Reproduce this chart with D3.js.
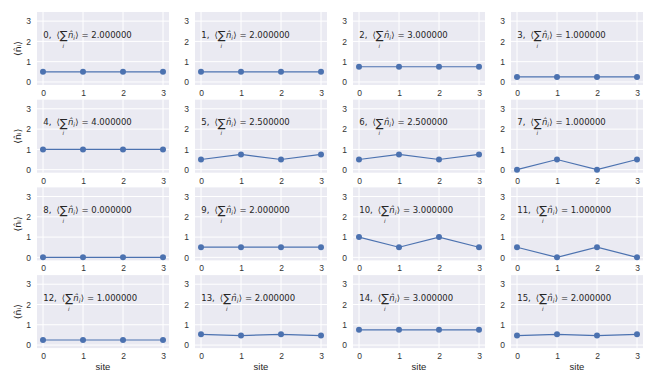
<!DOCTYPE html>
<html>
<head>
<meta charset="utf-8">
<script src="https://cdn.jsdelivr.net/npm/d3@7"></script>
<style>
  body { margin: 0; background: #fff; }
  svg { display: block; }
  text { font-family: "DejaVu Sans", sans-serif; }
</style>
</head>
<body>
<svg id="chart" width="660" height="377"></svg>
<script>
// ---- data ----
const sites = [0, 1, 2, 3];
const xTicks = [0, 1, 2, 3];
const yTicks = [0, 1, 2, 3];
const stateIds = [0,1,2,3,4,5,6,7,8,9,10,11,12,13,14,15];
const occupations = [
  [0.5, 0.5, 0.5, 0.5],
  [0.5, 0.5, 0.5, 0.5],
  [0.75, 0.75, 0.75, 0.75],
  [0.25, 0.25, 0.25, 0.25],
  [1, 1, 1, 1],
  [0.5, 0.75, 0.5, 0.75],
  [0.5, 0.75, 0.5, 0.75],
  [0, 0.5, 0, 0.5],
  [0, 0, 0, 0],
  [0.5, 0.5, 0.5, 0.5],
  [1, 0.5, 1, 0.5],
  [0.5, 0, 0.5, 0],
  [0.25, 0.25, 0.25, 0.25],
  [0.53, 0.47, 0.53, 0.47],
  [0.75, 0.75, 0.75, 0.75],
  [0.47, 0.53, 0.47, 0.53]
];
const totals = [2, 2, 3, 1, 4, 2.5, 2.5, 1, 0, 2, 3, 1, 1, 2, 3, 2];
const xLabel = "site";

// ---- layout ----
const svg = d3.select("#chart");
const nCols = 4, nRows = 4;
const panelW = 132, panelH = 73;
const colLeft = c => 37 + c * 158;
const rowTop = r => 12 + r * 87.7;
const blue = "#4C72B0";
const tickColor = "#262626";

const x = d3.scaleLinear().domain([-0.15, 3.15]).range([0, panelW]);
const y = d3.scaleLinear().domain([-0.15, 3.45]).range([panelH, 0]);

stateIds.forEach((id, k) => {
  const r = Math.floor(k / nCols), c = k % nCols;
  const g = svg.append("g").attr("transform", `translate(${colLeft(c)},${rowTop(r)})`);
  g.append("rect").attr("width", panelW).attr("height", panelH).attr("fill", "#EAEAF2");

  // grid
  g.selectAll(".gx").data(xTicks).enter().append("line")
    .attr("x1", d => x(d)).attr("x2", d => x(d)).attr("y1", 0).attr("y2", panelH)
    .attr("stroke", "#fff").attr("stroke-width", 1);
  g.selectAll(".gy").data(yTicks).enter().append("line")
    .attr("y1", d => y(d)).attr("y2", d => y(d)).attr("x1", 0).attr("x2", panelW)
    .attr("stroke", "#fff").attr("stroke-width", 1);

  // axes (labels only)
  const xa = g.append("g").attr("transform", `translate(0,${panelH})`)
    .call(d3.axisBottom(x).tickValues(xTicks).tickSize(0).tickPadding(5).tickFormat(d3.format("d")));
  const ya = g.append("g")
    .call(d3.axisLeft(y).tickValues(yTicks).tickSize(0).tickPadding(6).tickFormat(d3.format("d")));
  [xa, ya].forEach(a => {
    a.select(".domain").remove();
    a.selectAll("text").attr("fill", "#333").style("font-size", "8.5px")
      .style("font-family", "'Liberation Sans', Arial, sans-serif");
  });

  // line + markers
  const data = occupations[k].map((v, i) => ({ s: sites[i], v }));
  g.append("path").datum(data)
    .attr("fill", "none").attr("stroke", blue).attr("stroke-width", 1.2)
    .attr("d", d3.line().x(d => x(d.s)).y(d => y(d.v)));
  g.selectAll(".pt").data(data).enter().append("circle")
    .attr("cx", d => x(d.s)).attr("cy", d => y(d.v)).attr("r", 3).attr("fill", blue);

  // annotation: "k, <sum_i n_i> = total"
  const tx = x(0) + 0.3, ty = 25.5;
  const t = g.append("text").attr("x", tx).attr("y", ty).attr("fill", tickColor)
    .style("font-size", "8.5px");
  t.append("tspan").text(`${id},`);
  t.append("tspan").attr("dx", 5).text("\u27E8");
  const sig = t.append("tspan").style("font-size", "11.5px").attr("dy", 1.5).text("\u2211");
  let sMid = tx + 21, sEnd = tx + 25;
  try {
    const a = sig.node().getStartPositionOfChar(0);
    const b = sig.node().getEndPositionOfChar(0);
    sMid = (a.x + b.x) / 2; sEnd = b.x;
  } catch (e) {}
  t.append("tspan").attr("x", sMid - 1.1).attr("dy", 8.5)
    .style("font-size", "5.5px").style("font-style", "italic").text("i");
  t.append("tspan").attr("x", sEnd + 0.4).attr("dy", -10).style("font-style", "italic").text("n\u0302");
  t.append("tspan").attr("dy", 2).style("font-size", "6px").style("font-style", "italic").text("i");
  t.append("tspan").attr("dy", -2).attr("dx", 0.3).text("\u27E9");
  t.append("tspan").attr("dx", 3).text("=");
  t.append("tspan").attr("dx", 2.5).text(totals[k].toFixed(6));

  // y label
  if (c === 0) {
    g.append("text")
      .attr("transform", `translate(${-16},${panelH / 2}) rotate(-90)`)
      .attr("text-anchor", "middle").attr("fill", tickColor).style("font-size", "9.5px")
      .text("\u27E8n\u0302\u1D62\u27E9");
  }
  if (r === nRows - 1) {
    g.append("text").attr("x", panelW / 2).attr("y", panelH + 22)
      .attr("text-anchor", "middle").attr("fill", tickColor).style("font-size", "9.5px")
      .style("font-family", "'Liberation Sans', Arial, sans-serif")
      .text(xLabel);
  }
});
</script>
</body>
</html>
